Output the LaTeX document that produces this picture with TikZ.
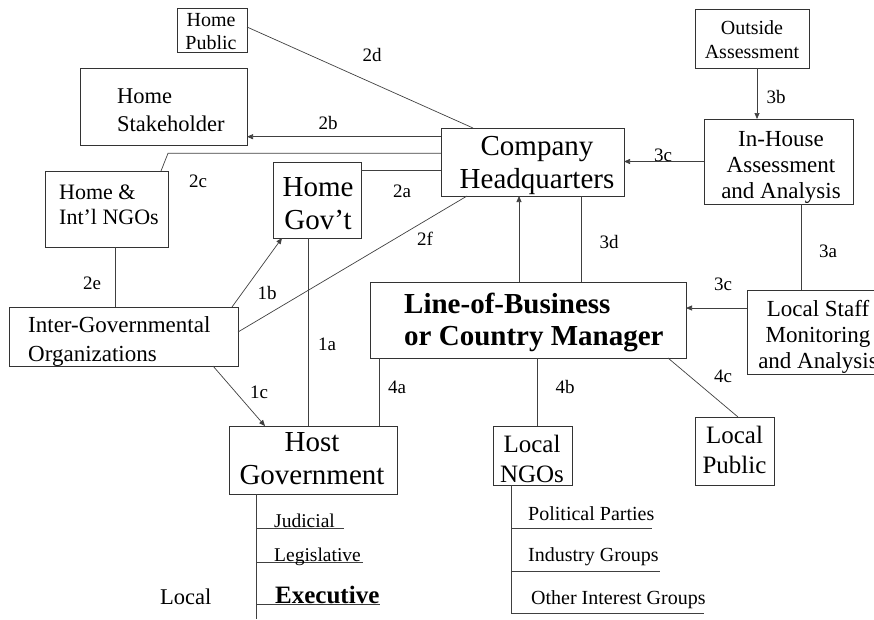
\documentclass[tikz,border=0pt]{standalone}
\usepackage{fontspec}
\setmainfont{Liberation Serif}
\usetikzlibrary{arrows.meta}
\begin{document}
\begin{tikzpicture}[x=1pt,y=-1pt,
  box/.style={draw=black!80, line width=0.8pt, rectangle, inner sep=0pt, outer sep=0pt, fill=white},
  txt/.style={inner sep=0pt, align=center},
  ltxt/.style={inner sep=0pt, align=left, anchor=west},
  link/.style={draw=black!75, line width=0.7pt},
  arr/.style={link, -{Triangle[length=6pt,width=5pt]}},
  lbl/.style={inner sep=0pt, font=\fontsize{19}{22}\selectfont},
  item/.style={inner sep=0pt, anchor=base west, font=\fontsize{19.5}{22}\selectfont}]
\useasboundingbox (0,0) rectangle (874,619);
\clip (0,0) rectangle (874,619);

% boxes
\node[box, minimum width=70pt,  minimum height=44pt] (hpub)    at (212,30) {};
\node[box, minimum width=167pt, minimum height=77pt] (hstake)  at (163.5,106.5) {};
\node[box, minimum width=123pt, minimum height=76pt] (hngo)    at (106.5,209) {};
\node[box, minimum width=88pt,  minimum height=76pt] (hgov)    at (317,200) {};
\node[box, minimum width=183pt, minimum height=68pt] (hq)      at (532.5,162) {};
\node[box, minimum width=114pt, minimum height=59pt] (outside) at (752,38.5) {};
\node[box, minimum width=149pt, minimum height=85pt] (inhouse) at (778.5,161.5) {};
\node[box, minimum width=229pt, minimum height=59pt] (igo)     at (123.5,336.5) {};
\node[box, minimum width=316pt, minimum height=76pt] (lob)     at (528,320) {};
\node[box, minimum width=138pt, minimum height=84pt] (lstaff)  at (816,332) {};
\node[box, minimum width=79pt,  minimum height=59pt] (lngo)    at (532.5,455.5) {};
\node[box, minimum width=79pt,  minimum height=68pt] (lpub)    at (734.5,451) {};
\node[box, minimum width=168pt, minimum height=68pt] (hostgov) at (313,460) {};

% box texts
\node[txt, font=\fontsize{20}{23}\selectfont] (hpubt) at (211,32) {Home\\Public};
\node[ltxt, font=\fontsize{22.5}{28}\selectfont] (hstaket) at (117,110) {Home\\Stakeholder};
\node[ltxt, font=\fontsize{22}{25}\selectfont] (hngot) at (59,205) {Home \&\\Int’l NGOs};
\node[txt, font=\fontsize{29}{33}\selectfont] (hgovt) at (318,203.5) {Home\\Gov’t};
\node[txt, font=\fontsize{29}{33}\selectfont] (hqt) at (537,165) {Company\\Headquarters};
\node[txt, font=\fontsize{20}{24}\selectfont] (outt) at (752,40) {Outside\\Assessment};
\node[txt, font=\fontsize{23}{26.3}\selectfont] (inht) at (781,167.5) {In-House\\Assessment\\and Analysis};
\node[ltxt, font=\fontsize{23}{29}\selectfont] (igot) at (28,341) {Inter-Governmental\\Organizations};
\node[ltxt, font={\fontsize{29}{32}\selectfont\bfseries}] (lobt) at (404,322) {Line-of-Business\\or Country Manager};
\node[txt, font=\fontsize{23}{26}\selectfont] (lstafft) at (818,336.5) {Local Staff\\Monitoring\\and Analysis};
\node[txt, font=\fontsize{25}{30}\selectfont] (lngot) at (532,458.5) {Local\\NGOs};
\node[txt, font=\fontsize{25}{30}\selectfont] (lpubt) at (734.5,450) {Local\\Public};
\node[txt, font=\fontsize{29}{33}\selectfont] (hostt) at (312,458.5) {Host\\Government};

% headquarters links (2)
\draw[link] ([yshift=3pt]hpub.east) -- ([xshift=-59.5pt]hq.north);
\coordinate (c2b) at ([yshift=25.3pt]hq.west);
\draw[arr] (c2b) -- (c2b -| hstake.east);
\coordinate (c2c) at ([yshift=8.7pt]hq.west);
\draw[link] (c2c) -- (c2c -| hngo.north east) -- ([xshift=-7pt]hngo.north east);
\coordinate (c2a) at ([yshift=-8.7pt]hq.west);
\draw[link] (c2a) -- (c2a -| hgov.east);
\draw[link] ([xshift=-65.5pt]hq.south) -- ([yshift=4.5pt]igo.east);
\coordinate (c2e) at ([xshift=8.5pt]hngo.south);
\draw[link] (c2e) -- (c2e |- igo.north);

% government links (1)
\draw[arr] ([xshift=108.5pt]igo.north) -- ([xshift=-35pt]hgov.south);
\coordinate (c1a) at ([xshift=-8.5pt]hgov.south);
\draw[link] (c1a) -- (c1a |- hostgov.north);
\draw[arr] ([xshift=89.5pt]igo.south) -- ([xshift=-48pt]hostgov.north);

% assessment links (3)
\coordinate (cup) at ([xshift=-9pt]lob.north);
\draw[arr] (cup) -- (cup |- hq.south);
\coordinate (c3d) at ([xshift=48.5pt]hq.south);
\draw[link] (c3d) -- (c3d |- lob.north);
\coordinate (c3b) at ([xshift=5pt]outside.south);
\draw[arr] (c3b) -- (c3b |- inhouse.north);
\draw[arr] (inhouse.west) -- (inhouse.west -| hq.east);
\coordinate (c3a) at ([xshift=22.5pt]inhouse.south);
\draw[link] (c3a) -- (c3a |- lstaff.north);
\coordinate (c3c) at ([yshift=24pt]lstaff.west);
\draw[arr] (c3c) -- (c3c -| lob.east);

% local links (4)
\coordinate (c4a) at ([xshift=-149pt]lob.south);
\draw[link] (c4a) -- (c4a |- hostgov.north);
\coordinate (c4b) at ([xshift=9pt]lob.south);
\draw[link] (c4b) -- (c4b |- lngo.north);
\draw[link] ([xshift=140pt]lob.south) -- ([xshift=3.5pt]lpub.north);

% link labels
\node[lbl] (l2d) at (372,55) {2d};
\node[lbl] (l2b) at (328,123) {2b};
\node[lbl] (l2c) at (198,181) {2c};
\node[lbl] (l2a) at (402,191) {2a};
\node[lbl] (l2f) at (425,239) {2f};
\node[lbl] (l2e) at (92,283) {2e};
\node[lbl] (l1b) at (267,293) {1b};
\node[lbl] (l1a) at (327,344) {1a};
\node[lbl] (l1c) at (259,392) {1c};
\node[lbl] (l4a) at (397,387) {4a};
\node[lbl] (l3b) at (776,97) {3b};
\node[lbl] (l3ct) at (663,155) {3c};
\node[lbl] (l3d) at (609,242) {3d};
\node[lbl] (l3a) at (828,251) {3a};
\node[lbl] (l3cb) at (723,284) {3c};
\node[lbl] (l4b) at (565,387) {4b};
\node[lbl] (l4c) at (723,376) {4c};

% branches of the host government
\coordinate (hgtop) at ([xshift=-57pt]hostgov.south);
\coordinate (hgend) at (256,619);
\draw[link] (hgtop) -- (hgend);
\coordinate (jud) at (344,528);
\coordinate (leg) at (363,562);
\coordinate (exe) at (380,604);
\draw[link] (jud -| hgtop) -- (jud);
\draw[link] (leg -| hgtop) -- (leg);
\draw[link] (exe -| hgtop) -- (exe);
\node[item] (tjud) at (274,527) {Judicial};
\node[item] (tleg) at (274,561.5) {Legislative};
\node[item, font={\fontsize{25}{28}\selectfont\bfseries}] (texe) at (275,603.5) {Executive};
\node[item, font=\fontsize{22.5}{26}\selectfont] (tloc) at (160,604) {Local};

% other local groups
\coordinate (ngtop) at ([xshift=-21.5pt]lngo.south);
\coordinate (ngend) at (511,613);
\draw[link] (ngtop) -- (ngend);
\coordinate (pp) at (652,528);
\coordinate (ig) at (660,571);
\coordinate (oig) at (704,613);
\draw[link] (pp -| ngtop) -- (pp);
\draw[link] (ig -| ngtop) -- (ig);
\draw[link] (oig -| ngtop) -- (oig);
\node[item, font=\fontsize{20}{23}\selectfont] (tpp) at (528,520) {Political Parties};
\node[item, font=\fontsize{20}{23}\selectfont] (tig) at (528,561.5) {Industry Groups};
\node[item, font=\fontsize{20}{23}\selectfont] (toig) at (531,604) {Other Interest Groups};
\end{tikzpicture}
\end{document}
